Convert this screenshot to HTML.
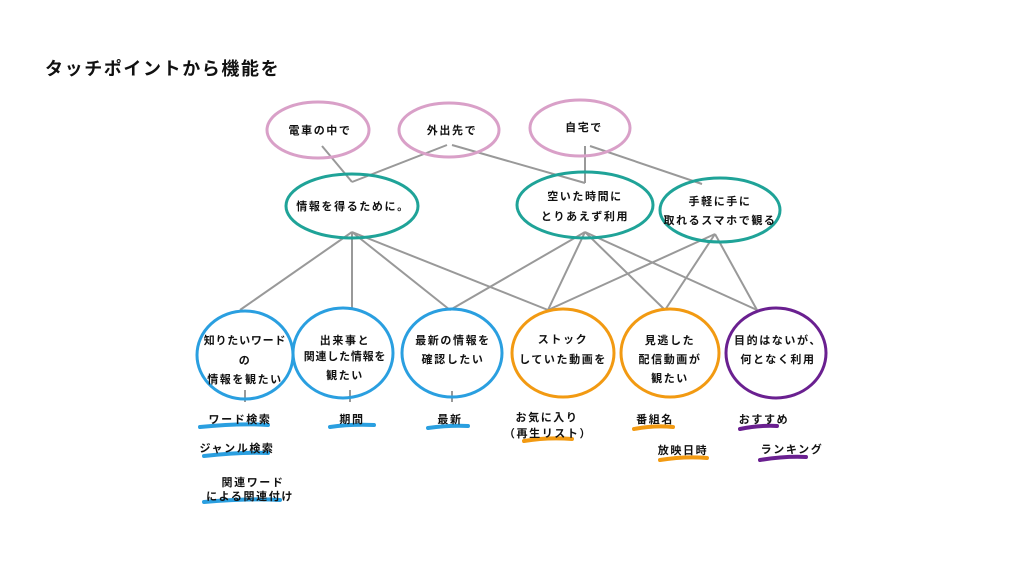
<!DOCTYPE html>
<html><head><meta charset="utf-8"><style>
html,body{margin:0;padding:0;background:#fff;width:1033px;height:575px;overflow:hidden}
svg{display:block}
text{font-family:"Liberation Sans","Noto Sans CJK JP",sans-serif;fill:#111}
.t{font-size:11px;font-weight:bold;text-anchor:middle;letter-spacing:1.6px}
</style></head><body>
<svg width="1033" height="575" viewBox="0 0 1033 575">
<text x="45" y="75" style="font-size:18px;font-weight:bold;letter-spacing:1.6px">タッチポイントから機能を</text>
<g stroke="#999" stroke-width="2" fill="none">
<line x1="322" y1="146" x2="352" y2="182"/>
<line x1="447" y1="145" x2="352" y2="182"/>
<line x1="452" y1="145" x2="585" y2="183"/>
<line x1="585" y1="146" x2="585" y2="183"/>
<line x1="590" y1="146" x2="702" y2="184"/>
<line x1="352" y1="232" x2="240" y2="310"/>
<line x1="352" y1="232" x2="352" y2="310"/>
<line x1="352" y1="232" x2="450" y2="310"/>
<line x1="352" y1="232" x2="548" y2="310"/>
<line x1="585" y1="232" x2="450" y2="310"/>
<line x1="585" y1="232" x2="548" y2="310"/>
<line x1="585" y1="232" x2="665" y2="310"/>
<line x1="585" y1="232" x2="757" y2="310"/>
<line x1="715" y1="234" x2="548" y2="310"/>
<line x1="715" y1="234" x2="665" y2="310"/>
<line x1="715" y1="234" x2="757" y2="310"/>
<line x1="245" y1="390" x2="245" y2="402"/>
<line x1="350" y1="390" x2="350" y2="402"/>
<line x1="452" y1="391" x2="452" y2="402"/>
</g>
<g fill="none" stroke-width="3">
<ellipse cx="318" cy="130" rx="51" ry="28" stroke="#d9a0c8"/>
<ellipse cx="449" cy="130" rx="50" ry="27" stroke="#d9a0c8"/>
<ellipse cx="580" cy="128" rx="50" ry="28" stroke="#d9a0c8"/>
<ellipse cx="352" cy="206" rx="66" ry="32" stroke="#1fa398"/>
<ellipse cx="585" cy="205" rx="68" ry="33" stroke="#1fa398"/>
<ellipse cx="720" cy="210" rx="60" ry="32" stroke="#1fa398"/>
<ellipse cx="245" cy="355" rx="48" ry="44" stroke="#2a9fe0"/>
<ellipse cx="343" cy="353" rx="50" ry="45" stroke="#2a9fe0"/>
<ellipse cx="452" cy="353" rx="50" ry="44" stroke="#2a9fe0"/>
<ellipse cx="563" cy="353" rx="51" ry="44" stroke="#f29a12"/>
<ellipse cx="670" cy="353" rx="49" ry="44" stroke="#f29a12"/>
<ellipse cx="776" cy="353" rx="50" ry="45" stroke="#6a2090"/>
</g>
<text class="t" x="320" y="134">電車の中で</text>
<text class="t" x="452" y="134">外出先で</text>
<text class="t" x="584" y="131">自宅で</text>
<text class="t" x="353" y="210">情報を得るために。</text>
<text class="t" x="585" y="200">空いた時間に</text>
<text class="t" x="585" y="220">とりあえず利用</text>
<text class="t" x="720" y="205">手軽に手に</text>
<text class="t" x="720" y="224">取れるスマホで観る</text>
<text class="t" x="245" y="344" style="letter-spacing:0.8px">知りたいワード</text>
<text class="t" x="245" y="364">の</text>
<text class="t" x="245" y="383">情報を観たい</text>
<text class="t" x="345" y="344">出来事と</text>
<text class="t" x="345" y="360" style="letter-spacing:0.8px">関連した情報を</text>
<text class="t" x="345" y="379">観たい</text>
<text class="t" x="453" y="344">最新の情報を</text>
<text class="t" x="453" y="363">確認したい</text>
<text class="t" x="563" y="343">ストック</text>
<text class="t" x="563" y="363">していた動画を</text>
<text class="t" x="670" y="344">見逃した</text>
<text class="t" x="670" y="363">配信動画が</text>
<text class="t" x="670" y="382">観たい</text>
<text class="t" x="778" y="344">目的はないが、</text>
<text class="t" x="778" y="363">何となく利用</text>
<g stroke-linecap="round" stroke-width="4" fill="none">
<path d="M200 427 Q240 423 268 425" stroke="#2a9fe0"/>
<path d="M204 456 Q240 452 268 453" stroke="#2a9fe0"/>
<path d="M204 502 Q250 498 280 500" stroke="#2a9fe0"/>
<path d="M330 427 Q350 424 374 425" stroke="#2a9fe0"/>
<path d="M428 428 Q450 425 468 426" stroke="#2a9fe0"/>
<path d="M524 441 Q548 437 572 439" stroke="#f29a12"/>
<path d="M634 429 Q655 425 673 427" stroke="#f29a12"/>
<path d="M660 460 Q685 456 707 458" stroke="#f29a12"/>
<path d="M740 429 Q760 425 777 426" stroke="#6a2090"/>
<path d="M760 460 Q785 456 806 457" stroke="#6a2090"/>
</g>
<text class="t" x="240" y="423">ワード検索</text>
<text class="t" x="237" y="452">ジャンル検索</text>
<text class="t" x="253" y="486">関連ワード</text>
<text class="t" x="250" y="500">による関連付け</text>
<text class="t" x="352" y="423">期間</text>
<text class="t" x="450" y="423">最新</text>
<text class="t" x="547" y="421">お気に入り</text>
<text class="t" x="548" y="437">（再生リスト）</text>
<text class="t" x="655" y="423">番組名</text>
<text class="t" x="683" y="454">放映日時</text>
<text class="t" x="764" y="423">おすすめ</text>
<text class="t" x="792" y="453">ランキング</text>
</svg>
</body></html>
